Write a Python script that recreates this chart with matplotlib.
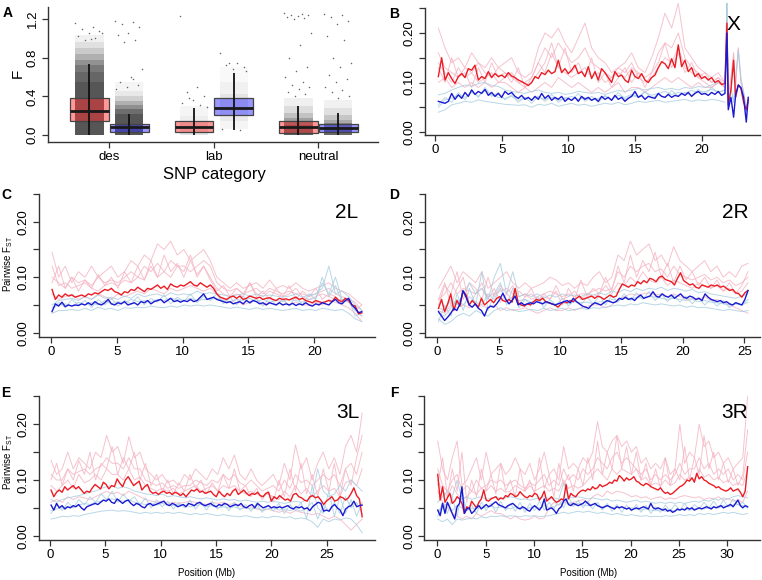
import numpy as np
import matplotlib.pyplot as plt

plt.rcParams['font.family'] = ['Liberation Sans', 'DejaVu Sans']

W, H = 762, 580  # figure size in pixels

# ---------------- panel A : F by SNP category ----------------
categories = ['des', 'lab', 'neutral']
# (whisker low, q1, median, q3, whisker high)
red_box = [(0.0, 0.148, 0.248, 0.386, 0.73),
           (0.0, 0.034, 0.086, 0.148, 0.283),
           (0.0, 0.024, 0.079, 0.145, 0.30)]
blue_box = [(0.0, 0.031, 0.083, 0.110, 0.214),
            (0.052, 0.207, 0.283, 0.386, 0.645),
            (0.0, 0.028, 0.076, 0.110, 0.224)]
# dense part of the jittered point clouds: (low, high, darkness)
red_cloud = [[(0.0, 0.55, 0.9), (0.55, 0.65, 0.82), (0.65, 0.72, 0.72), (0.72, 0.78, 0.58), (0.78, 0.84, 0.42),
              (0.84, 0.90, 0.28), (0.90, 0.96, 0.16), (0.96, 1.03, 0.07)],
             [(0.0, 0.12, 0.14), (0.12, 0.20, 0.09), (0.20, 0.30, 0.05)],
             [(0.0, 0.10, 0.85), (0.10, 0.14, 0.7), (0.14, 0.18, 0.5), (0.18, 0.23, 0.32), (0.23, 0.30, 0.18),
              (0.30, 0.38, 0.08)]]
blue_cloud = [[(0.0, 0.22, 0.9), (0.22, 0.27, 0.78), (0.27, 0.31, 0.6), (0.31, 0.35, 0.42), (0.35, 0.40, 0.25),
               (0.40, 0.46, 0.12), (0.46, 0.55, 0.05)],
              [(0.06, 0.15, 0.05), (0.15, 0.25, 0.11), (0.25, 0.42, 0.14), (0.42, 0.55, 0.07), (0.55, 0.70, 0.03)],
              [(0.0, 0.08, 0.8), (0.08, 0.12, 0.65), (0.12, 0.16, 0.45), (0.16, 0.21, 0.3), (0.21, 0.28, 0.16),
               (0.28, 0.36, 0.07)]]
# scattered single points outside the dense part
red_sparse = [[1.16, 1.12, 1.10, 1.08, 1.05, 1.02, 1.00, 0.98, 1.06, 0.99],
              [1.23, 0.50, 0.45, 0.40, 0.36, 0.33, 0.31, 0.38, 0.29],
              [1.26, 1.25, 1.24, 1.24, 1.23, 1.22, 1.21, 1.20, 1.05, 0.93, 0.80, 0.70, 0.66,
               0.60, 0.55, 0.52, 0.50, 0.48, 0.45, 0.42, 0.40]]
blue_sparse = [[1.18, 1.17, 1.15, 1.12, 1.05, 1.03, 0.98, 0.96, 0.68, 0.60, 0.55, 0.52, 0.50, 0.48, 0.58],
               [0.85, 0.75, 0.72, 0.70, 0.68, 0.06, 0.05, 0.74, 0.66],
               [1.25, 1.24, 1.22, 1.18, 1.15, 1.02, 0.98, 0.80, 0.75, 0.70, 0.62, 0.58,
                0.55, 0.50, 0.47, 0.44, 0.40, 0.38]]

# ---------------- panel B : X ----------------
b_start, b_end = 0.25, 21.75
b_red = [0.112,0.150,0.105,0.120,0.108,0.098,0.112,0.118,0.110,0.128,
         0.125,0.135,0.105,0.112,0.108,0.122,0.110,0.118,0.112,0.115,
         0.110,0.120,0.113,0.110,0.105,0.102,0.098,0.094,0.100,0.112,
         0.108,0.120,0.116,0.125,0.118,0.122,0.145,0.120,0.128,0.118,
         0.125,0.135,0.118,0.122,0.112,0.132,0.108,0.122,0.105,0.128,
         0.120,0.110,0.100,0.122,0.112,0.115,0.105,0.100,0.125,0.112,
         0.108,0.118,0.105,0.100,0.110,0.115,0.130,0.142,0.138,0.128,
         0.148,0.130,0.176,0.132,0.145,0.122,0.130,0.112,0.118,0.108,
         0.112,0.105,0.110,0.100,0.104,0.096,0.098]
b_blue = [0.062,0.060,0.058,0.062,0.078,0.066,0.075,0.068,0.080,0.072,
          0.085,0.076,0.082,0.078,0.086,0.074,0.080,0.072,0.078,0.070,
          0.082,0.076,0.080,0.072,0.068,0.074,0.066,0.070,0.064,0.072,
          0.066,0.078,0.068,0.074,0.064,0.070,0.066,0.072,0.062,0.068,
          0.064,0.070,0.062,0.072,0.066,0.070,0.064,0.068,0.062,0.072,
          0.066,0.070,0.064,0.074,0.066,0.070,0.062,0.068,0.072,0.082,
          0.070,0.074,0.066,0.072,0.070,0.068,0.078,0.072,0.070,0.076,
          0.070,0.074,0.072,0.078,0.074,0.080,0.072,0.078,0.082,0.076,
          0.078,0.074,0.080,0.076,0.082,0.074,0.078]
b_pink = [
    [0.21,0.17,0.14,0.15,0.13,0.16,0.14,0.13,0.15,0.13,0.14,0.15,0.12,0.11,0.12,0.17,0.20,0.19,0.21,0.18,0.16,0.19,
     0.22,0.17,0.15,0.14,0.12,0.13,0.14,0.16,0.13,0.12,0.15,0.19,0.24,0.21,0.26,0.17,0.15,0.13,0.12,0.11,0.12,0.10],
    [0.16,0.13,0.12,0.11,0.13,0.12,0.14,0.12,0.11,0.13,0.12,0.11,0.10,0.10,0.11,0.14,0.17,0.15,0.18,0.16,0.14,0.15,
     0.17,0.14,0.13,0.12,0.11,0.12,0.11,0.13,0.12,0.11,0.12,0.16,0.18,0.17,0.20,0.15,0.13,0.12,0.11,0.10,0.11,0.10],
    [0.10,0.11,0.09,0.10,0.09,0.10,0.09,0.10,0.09,0.10,0.10,0.09,0.08,0.09,0.08,0.09,0.10,0.09,0.11,0.10,0.09,0.10,
     0.09,0.08,0.09,0.08,0.09,0.10,0.08,0.09,0.09,0.08,0.09,0.10,0.11,0.10,0.11,0.10,0.09,0.10,0.09,0.09,0.10,0.09],
    [0.14,0.12,0.10,0.13,0.11,0.12,0.10,0.11,0.12,0.10,0.11,0.12,0.10,0.09,0.10,0.12,0.14,0.18,0.13,0.12,0.11,0.12,
     0.13,0.11,0.12,0.10,0.11,0.13,0.12,0.14,0.11,0.10,0.11,0.13,0.15,0.14,0.17,0.13,0.12,0.11,0.10,0.09,0.10,0.09],
    [0.13,0.10,0.15,0.11,0.12,0.09,0.13,0.10,0.14,0.11,0.12,0.10,0.13,0.09,0.11,0.14,0.12,0.16,0.13,0.17,0.12,0.14,
     0.11,0.15,0.10,0.12,0.09,0.11,0.13,0.10,0.12,0.09,0.12,0.14,0.18,0.13,0.16,0.12,0.14,0.11,0.12,0.10,0.11,0.09]]
b_lblue = [
    [0.075,0.078,0.085,0.090,0.095,0.092,0.098,0.100,0.094,0.092,0.085,0.082,0.080,0.078,0.082,0.085,0.080,0.078,0.080,0.076,0.078,0.082,
     0.080,0.078,0.080,0.076,0.080,0.084,0.082,0.085,0.088,0.085,0.088,0.090,0.086,0.088,0.085,0.090,0.088,0.092,0.090,0.095,0.100,0.098],
    [0.040,0.045,0.055,0.058,0.062,0.060,0.065,0.062,0.060,0.058,0.056,0.055,0.054,0.055,0.050,0.056,0.054,0.058,0.052,0.055,0.058,0.054,
     0.056,0.052,0.055,0.058,0.056,0.060,0.055,0.058,0.062,0.060,0.062,0.064,0.060,0.062,0.064,0.066,0.062,0.065,0.063,0.066,0.064,0.060],
    [0.050,0.065,0.068,0.075,0.070,0.080,0.072,0.085,0.075,0.070,0.068,0.072,0.064,0.070,0.066,0.072,0.065,0.070,0.064,0.068,0.072,0.066,
     0.070,0.064,0.068,0.072,0.066,0.074,0.070,0.076,0.072,0.080,0.074,0.078,0.082,0.076,0.080,0.078,0.084,0.080,0.082,0.086,0.080,0.085],
    [0.055,0.07,0.06,0.08,0.065,0.085,0.07,0.09,0.072,0.08,0.065,0.075,0.06,0.07,0.058,0.072,0.062,0.076,0.06,0.07,0.064,0.078,
     0.062,0.072,0.06,0.074,0.064,0.08,0.066,0.074,0.07,0.082,0.068,0.076,0.07,0.084,0.072,0.08,0.074,0.086,0.076,0.09,0.08,0.085]]
# noisy end of the X (after 21.75 Mb)
b_tail_x = [21.9, 22.0, 22.2, 22.4, 22.55, 22.75, 22.95, 23.15, 23.35, 23.5]
b_tail_red = [0.22, 0.055, 0.085, 0.145, 0.07, 0.095, 0.088, 0.06, 0.045, 0.065]
b_tail_blue = [0.20, 0.045, 0.07, 0.03, 0.075, 0.095, 0.09, 0.07, 0.02, 0.07]
b_tail_pink = [0.25, 0.07, 0.11, 0.16, 0.09, 0.17, 0.11, 0.08, 0.05, 0.07]
b_tail_lblue = [0.27, 0.05, 0.09, 0.06, 0.11, 0.165, 0.10, 0.08, 0.04, 0.06]

# ---------------- panel C : 2L ----------------
c_start, c_end = 0.1, 23.6
c_red = [0.078,0.060,0.068,0.064,0.070,0.066,0.068,0.064,0.066,0.068,0.065,0.070,0.068,0.072,0.070,0.074,0.078,0.076,0.080,0.074,
         0.072,0.068,0.074,0.072,0.078,0.076,0.082,0.078,0.074,0.080,0.078,0.082,0.086,0.080,0.084,0.078,0.088,0.084,0.082,0.086,
         0.084,0.088,0.092,0.086,0.084,0.090,0.086,0.082,0.086,0.080,0.070,0.064,0.062,0.060,0.064,0.066,0.062,0.066,0.060,0.062,
         0.066,0.064,0.062,0.064,0.060,0.062,0.063,0.060,0.058,0.062,0.060,0.061,0.059,0.062,0.064,0.060,0.062,0.058,0.056,0.054,
         0.058,0.056,0.054,0.056,0.058,0.056,0.064,0.058,0.056,0.062,0.058,0.050,0.048,0.034,0.036]
c_blue = [0.038,0.052,0.048,0.055,0.047,0.050,0.048,0.050,0.049,0.052,0.050,0.054,0.050,0.056,0.052,0.050,0.054,0.060,0.052,0.050,
          0.054,0.052,0.056,0.050,0.052,0.054,0.050,0.056,0.054,0.058,0.052,0.056,0.058,0.060,0.054,0.058,0.062,0.056,0.058,0.055,
          0.058,0.056,0.060,0.056,0.058,0.064,0.070,0.060,0.062,0.064,0.060,0.058,0.056,0.054,0.056,0.052,0.054,0.056,0.052,0.058,
          0.054,0.058,0.056,0.052,0.054,0.050,0.054,0.052,0.050,0.054,0.050,0.052,0.050,0.053,0.049,0.052,0.050,0.054,0.050,0.048,
          0.052,0.050,0.054,0.052,0.050,0.056,0.060,0.054,0.052,0.058,0.062,0.050,0.044,0.036,0.038]
c_pink = [
    [0.145,0.10,0.12,0.09,0.11,0.10,0.12,0.10,0.11,0.12,0.10,0.11,0.13,0.12,0.14,0.13,0.16,0.15,0.165,0.14,0.15,0.13,0.14,0.15,
     0.13,0.10,0.09,0.08,0.09,0.08,0.085,0.09,0.08,0.095,0.08,0.085,0.08,0.09,0.08,0.075,0.08,0.085,0.09,0.08,0.075,0.07,0.06,0.05],
    [0.10,0.09,0.08,0.10,0.09,0.095,0.085,0.10,0.09,0.095,0.09,0.10,0.11,0.10,0.12,0.11,0.125,0.11,0.13,0.12,0.12,0.11,0.12,0.13,
     0.12,0.09,0.08,0.075,0.08,0.07,0.075,0.08,0.07,0.08,0.075,0.07,0.075,0.07,0.07,0.065,0.07,0.075,0.08,0.07,0.065,0.06,0.055,0.04],
    [0.07,0.06,0.065,0.07,0.06,0.065,0.06,0.07,0.065,0.06,0.07,0.065,0.07,0.075,0.07,0.08,0.075,0.07,0.08,0.075,0.08,0.085,0.08,0.075,
     0.08,0.07,0.06,0.055,0.06,0.05,0.055,0.06,0.05,0.055,0.05,0.06,0.05,0.055,0.05,0.05,0.055,0.05,0.06,0.055,0.05,0.045,0.035,0.02],
    [0.12,0.085,0.09,0.08,0.085,0.09,0.08,0.075,0.085,0.09,0.085,0.095,0.09,0.10,0.095,0.12,0.10,0.11,0.10,0.12,0.11,0.14,0.10,0.12,
     0.10,0.08,0.07,0.065,0.07,0.065,0.09,0.07,0.065,0.075,0.07,0.065,0.07,0.08,0.065,0.06,0.065,0.07,0.065,0.06,0.06,0.055,0.045,0.03],
    [0.09,0.12,0.08,0.10,0.075,0.095,0.08,0.105,0.085,0.10,0.08,0.11,0.09,0.12,0.095,0.13,0.10,0.14,0.11,0.125,0.10,0.13,0.105,0.12,
     0.095,0.075,0.085,0.065,0.08,0.07,0.09,0.065,0.075,0.06,0.08,0.065,0.085,0.06,0.075,0.065,0.08,0.06,0.07,0.065,0.055,0.06,0.04,0.05]]
c_lblue = [
    [0.05,0.058,0.06,0.062,0.058,0.065,0.06,0.068,0.062,0.064,0.06,0.066,0.062,0.07,0.065,0.068,0.07,0.065,0.072,0.068,0.07,0.068,0.075,0.07,
     0.072,0.07,0.068,0.065,0.068,0.07,0.066,0.07,0.066,0.068,0.066,0.064,0.066,0.07,0.064,0.068,0.07,0.08,0.12,0.07,0.075,0.065,0.05,0.04],
    [0.035,0.04,0.04,0.042,0.04,0.044,0.04,0.046,0.042,0.044,0.04,0.045,0.044,0.046,0.045,0.048,0.046,0.045,0.048,0.046,0.05,0.048,0.05,0.048,
     0.05,0.048,0.046,0.044,0.046,0.044,0.042,0.045,0.042,0.044,0.042,0.04,0.042,0.044,0.04,0.042,0.04,0.044,0.042,0.04,0.042,0.035,0.025,0.02],
    [0.045,0.05,0.052,0.048,0.055,0.05,0.054,0.05,0.058,0.052,0.056,0.054,0.06,0.056,0.058,0.056,0.06,0.058,0.062,0.06,0.058,0.062,0.058,0.06,
     0.06,0.062,0.058,0.056,0.06,0.058,0.062,0.056,0.06,0.055,0.058,0.056,0.06,0.058,0.055,0.06,0.062,0.09,0.07,0.10,0.06,0.055,0.04,0.03],
    [0.04,0.055,0.045,0.06,0.05,0.058,0.045,0.06,0.05,0.062,0.048,0.058,0.052,0.065,0.05,0.062,0.055,0.068,0.052,0.064,0.056,0.07,0.054,0.066,
     0.058,0.07,0.052,0.064,0.05,0.066,0.052,0.062,0.048,0.064,0.05,0.06,0.048,0.066,0.05,0.07,0.06,0.1,0.065,0.085,0.055,0.06,0.03,0.035]]

# ---------------- panel D : 2R ----------------
d_start, d_end = 0.1, 25.3
d_red = [0.044,0.060,0.038,0.052,0.070,0.040,0.058,0.048,0.075,0.068,0.050,0.058,0.052,0.046,0.062,0.050,0.055,0.060,0.054,0.062,
         0.065,0.058,0.056,0.060,0.055,0.080,0.054,0.050,0.048,0.052,0.050,0.056,0.060,0.058,0.062,0.056,0.054,0.052,0.050,0.046,
         0.052,0.056,0.054,0.058,0.056,0.062,0.066,0.060,0.062,0.064,0.066,0.062,0.066,0.064,0.060,0.064,0.068,0.064,0.066,0.078,
         0.088,0.085,0.082,0.086,0.084,0.092,0.088,0.094,0.090,0.098,0.096,0.092,0.100,0.102,0.096,0.094,0.092,0.086,0.098,0.108,
         0.094,0.090,0.086,0.088,0.082,0.080,0.086,0.084,0.082,0.086,0.084,0.086,0.082,0.084,0.080,0.076,0.078,0.072,0.070,0.064,
         0.072,0.076]
d_blue = [0.038,0.030,0.022,0.028,0.035,0.044,0.040,0.052,0.076,0.064,0.050,0.046,0.052,0.044,0.040,0.030,0.044,0.048,0.046,0.052,
          0.060,0.071,0.060,0.052,0.058,0.066,0.050,0.054,0.050,0.052,0.054,0.052,0.056,0.054,0.052,0.056,0.054,0.052,0.050,0.052,
          0.054,0.056,0.058,0.054,0.062,0.056,0.052,0.048,0.046,0.044,0.050,0.054,0.052,0.050,0.054,0.058,0.056,0.054,0.056,0.062,
          0.060,0.064,0.060,0.062,0.058,0.064,0.068,0.062,0.064,0.066,0.074,0.066,0.064,0.070,0.066,0.064,0.068,0.062,0.066,0.070,
          0.064,0.062,0.066,0.064,0.060,0.062,0.058,0.070,0.064,0.060,0.058,0.056,0.058,0.054,0.056,0.052,0.050,0.054,0.052,0.050,
          0.060,0.076]
d_pink = [
    [0.08,0.10,0.12,0.09,0.11,0.10,0.09,0.11,0.08,0.09,0.10,0.11,0.09,0.08,0.09,0.08,0.085,0.09,0.10,0.095,0.085,0.09,0.08,0.09,0.085,0.10,
     0.11,0.09,0.10,0.14,0.13,0.165,0.14,0.15,0.16,0.13,0.14,0.12,0.155,0.13,0.12,0.11,0.12,0.13,0.11,0.12,0.10,0.11,0.10,0.12,0.125],
    [0.06,0.07,0.09,0.07,0.08,0.075,0.07,0.08,0.065,0.07,0.075,0.08,0.07,0.065,0.07,0.06,0.065,0.07,0.075,0.07,0.065,0.07,0.065,0.07,0.07,0.075,
     0.08,0.075,0.08,0.11,0.10,0.12,0.11,0.12,0.125,0.11,0.115,0.10,0.12,0.105,0.10,0.095,0.10,0.105,0.095,0.10,0.09,0.095,0.085,0.09,0.10],
    [0.04,0.035,0.05,0.045,0.05,0.045,0.05,0.048,0.045,0.05,0.04,0.045,0.04,0.042,0.045,0.04,0.035,0.04,0.045,0.04,0.04,0.045,0.04,0.045,0.048,0.05,
     0.05,0.045,0.05,0.06,0.065,0.07,0.068,0.07,0.072,0.068,0.07,0.065,0.07,0.065,0.06,0.062,0.06,0.065,0.058,0.06,0.055,0.05,0.045,0.04,0.035],
    [0.05,0.085,0.07,0.11,0.06,0.09,0.08,0.06,0.10,0.065,0.085,0.07,0.06,0.075,0.065,0.07,0.06,0.065,0.06,0.085,0.06,0.065,0.075,0.06,0.07,0.065,
     0.07,0.085,0.07,0.09,0.085,0.10,0.09,0.11,0.095,0.09,0.10,0.085,0.095,0.09,0.085,0.08,0.09,0.085,0.08,0.085,0.075,0.08,0.07,0.075,0.09],
    [0.06,0.09,0.05,0.08,0.10,0.05,0.07,0.09,0.06,0.08,0.055,0.07,0.085,0.05,0.065,0.08,0.055,0.07,0.06,0.075,0.05,0.08,0.06,0.095,0.065,0.08,
     0.07,0.10,0.075,0.12,0.09,0.14,0.10,0.13,0.11,0.145,0.10,0.125,0.09,0.12,0.095,0.11,0.085,0.10,0.08,0.095,0.075,0.09,0.07,0.085,0.11]]
d_lblue = [
    [0.045,0.04,0.06,0.05,0.07,0.09,0.07,0.08,0.06,0.10,0.125,0.07,0.11,0.065,0.07,0.065,0.07,0.062,0.068,0.064,0.07,0.066,0.068,0.065,0.07,0.068,
     0.072,0.068,0.075,0.072,0.078,0.074,0.08,0.076,0.08,0.078,0.082,0.076,0.08,0.078,0.075,0.078,0.072,0.074,0.07,0.068,0.066,0.064,0.062,0.066,0.07],
    [0.025,0.015,0.02,0.03,0.035,0.03,0.04,0.035,0.03,0.04,0.045,0.04,0.042,0.038,0.04,0.042,0.04,0.044,0.04,0.042,0.044,0.04,0.042,0.044,0.042,0.045,
     0.044,0.046,0.048,0.05,0.048,0.052,0.05,0.054,0.052,0.05,0.052,0.05,0.048,0.05,0.046,0.048,0.045,0.046,0.044,0.042,0.04,0.042,0.04,0.038,0.04],
    [0.035,0.03,0.045,0.06,0.05,0.065,0.055,0.05,0.07,0.06,0.08,0.055,0.065,0.058,0.06,0.055,0.058,0.052,0.055,0.05,0.054,0.052,0.056,0.054,0.055,0.052,
     0.056,0.055,0.06,0.058,0.062,0.06,0.064,0.062,0.066,0.064,0.062,0.06,0.062,0.06,0.058,0.06,0.056,0.058,0.055,0.054,0.052,0.05,0.052,0.05,0.055],
    [0.02,0.05,0.03,0.07,0.04,0.08,0.05,0.11,0.04,0.07,0.09,0.05,0.08,0.045,0.06,0.05,0.065,0.045,0.06,0.05,0.062,0.048,0.06,0.05,0.064,0.052,
     0.066,0.05,0.068,0.055,0.07,0.058,0.072,0.06,0.074,0.058,0.07,0.056,0.068,0.055,0.066,0.052,0.064,0.05,0.06,0.048,0.058,0.045,0.055,0.05,0.06]]

# ---------------- panel E : 3L ----------------
e_start, e_end = 0.1, 28.2
e_red = [0.082,0.070,0.078,0.082,0.078,0.088,0.082,0.086,0.090,0.084,0.088,0.082,0.076,0.080,0.078,0.086,0.092,0.088,0.084,0.096,
         0.092,0.084,0.090,0.088,0.102,0.094,0.088,0.100,0.106,0.098,0.090,0.094,0.098,0.082,0.088,0.092,0.080,0.076,0.078,0.074,
         0.078,0.080,0.076,0.078,0.074,0.078,0.076,0.072,0.076,0.070,0.076,0.082,0.080,0.084,0.078,0.080,0.076,0.078,0.080,0.074,
         0.070,0.080,0.074,0.070,0.076,0.072,0.080,0.084,0.074,0.078,0.082,0.076,0.072,0.076,0.074,0.078,0.072,0.070,0.076,0.078,
         0.062,0.070,0.066,0.072,0.068,0.064,0.066,0.062,0.074,0.076,0.070,0.068,0.064,0.062,0.070,0.072,0.068,0.070,0.064,0.056,
         0.062,0.066,0.070,0.062,0.064,0.070,0.068,0.064,0.068,0.076,0.086,0.072,0.066,0.034]
e_blue = [0.055,0.046,0.058,0.050,0.054,0.048,0.052,0.050,0.054,0.052,0.056,0.050,0.046,0.052,0.054,0.056,0.058,0.056,0.060,0.064,
          0.062,0.066,0.060,0.058,0.066,0.062,0.058,0.062,0.064,0.058,0.054,0.058,0.056,0.052,0.050,0.056,0.058,0.054,0.056,0.058,
          0.060,0.062,0.056,0.054,0.058,0.056,0.052,0.054,0.056,0.052,0.058,0.056,0.054,0.058,0.060,0.056,0.054,0.056,0.058,0.054,
          0.052,0.056,0.054,0.058,0.056,0.052,0.054,0.056,0.054,0.058,0.052,0.050,0.054,0.056,0.050,0.058,0.054,0.050,0.052,0.054,
          0.050,0.052,0.050,0.052,0.050,0.052,0.054,0.050,0.048,0.052,0.050,0.052,0.048,0.050,0.045,0.052,0.056,0.060,0.058,0.044,
          0.046,0.044,0.052,0.056,0.050,0.046,0.036,0.048,0.052,0.054,0.062,0.052,0.054,0.055]
e_pink = [
    [0.135,0.11,0.12,0.15,0.12,0.14,0.13,0.12,0.15,0.14,0.18,0.15,0.16,0.13,0.178,0.14,0.15,0.12,0.11,0.10,0.11,0.095,0.10,0.09,0.11,0.10,0.12,0.11,
     0.10,0.12,0.11,0.14,0.12,0.145,0.11,0.10,0.12,0.10,0.09,0.10,0.11,0.09,0.13,0.10,0.163,0.12,0.14,0.10,0.13,0.15,0.12,0.14,0.11,0.16,0.18,0.15,0.22],
    [0.11,0.10,0.10,0.12,0.11,0.115,0.12,0.11,0.12,0.125,0.14,0.13,0.13,0.12,0.14,0.12,0.12,0.10,0.095,0.09,0.095,0.085,0.09,0.085,0.09,0.09,0.10,0.095,
     0.09,0.10,0.095,0.11,0.10,0.11,0.095,0.09,0.10,0.09,0.08,0.085,0.09,0.08,0.10,0.085,0.11,0.095,0.10,0.09,0.10,0.11,0.10,0.11,0.09,0.12,0.13,0.11,0.15],
    [0.06,0.065,0.06,0.07,0.065,0.07,0.068,0.065,0.07,0.075,0.08,0.075,0.078,0.072,0.08,0.075,0.07,0.065,0.062,0.06,0.062,0.058,0.06,0.058,0.06,0.062,0.06,
     0.058,0.056,0.06,0.058,0.06,0.056,0.058,0.054,0.05,0.052,0.048,0.045,0.048,0.045,0.042,0.045,0.04,0.045,0.042,0.04,0.038,0.04,0.035,0.03,0.035,0.03,
     0.02,0.01,0.02,0.03],
    [0.09,0.08,0.09,0.10,0.085,0.11,0.095,0.10,0.11,0.10,0.12,0.11,0.11,0.10,0.12,0.10,0.105,0.09,0.085,0.08,0.085,0.08,0.085,0.075,0.08,0.085,0.09,0.08,
     0.085,0.09,0.08,0.09,0.085,0.09,0.08,0.075,0.08,0.075,0.07,0.075,0.07,0.065,0.08,0.07,0.09,0.075,0.085,0.07,0.08,0.09,0.08,0.085,0.07,0.095,0.10,0.09,0.12],
    [0.10,0.13,0.09,0.12,0.10,0.135,0.11,0.15,0.10,0.13,0.12,0.16,0.11,0.14,0.12,0.15,0.10,0.13,0.09,0.11,0.08,0.10,0.075,0.095,0.08,0.11,0.085,0.10,
     0.075,0.095,0.08,0.11,0.085,0.12,0.08,0.09,0.07,0.085,0.065,0.08,0.06,0.10,0.07,0.12,0.08,0.13,0.075,0.11,0.07,0.12,0.08,0.13,0.07,0.12,0.09,0.14,0.18]]
e_lblue = [
    [0.065,0.06,0.065,0.068,0.07,0.072,0.075,0.078,0.08,0.085,0.088,0.09,0.085,0.088,0.085,0.08,0.078,0.075,0.074,0.072,0.075,0.07,0.072,0.07,0.068,0.07,
     0.068,0.066,0.068,0.066,0.064,0.066,0.064,0.065,0.062,0.064,0.062,0.06,0.062,0.06,0.062,0.06,0.058,0.06,0.062,0.06,0.064,0.07,0.12,0.08,0.07,0.075,
     0.09,0.08,0.10,0.09,0.08],
    [0.03,0.032,0.035,0.034,0.036,0.035,0.038,0.04,0.042,0.044,0.045,0.046,0.044,0.045,0.044,0.042,0.04,0.042,0.04,0.042,0.04,0.042,0.04,0.042,0.04,0.038,
     0.04,0.038,0.04,0.038,0.036,0.038,0.036,0.035,0.034,0.036,0.034,0.032,0.034,0.032,0.035,0.034,0.032,0.034,0.03,0.032,0.03,0.025,0.015,0.03,0.025,0.03,
     0.028,0.032,0.03,0.02,0.005],
    [0.045,0.048,0.05,0.052,0.05,0.055,0.058,0.056,0.06,0.062,0.065,0.066,0.064,0.062,0.065,0.06,0.058,0.056,0.058,0.055,0.058,0.056,0.054,0.056,0.055,0.052,
     0.054,0.056,0.052,0.054,0.05,0.052,0.05,0.052,0.048,0.05,0.048,0.05,0.046,0.048,0.05,0.046,0.048,0.045,0.048,0.044,0.05,0.06,0.03,0.055,0.045,0.06,
     0.04,0.07,0.05,0.06,0.04],
    [0.04,0.055,0.045,0.06,0.05,0.065,0.055,0.07,0.06,0.075,0.065,0.08,0.06,0.075,0.062,0.07,0.055,0.068,0.05,0.064,0.052,0.062,0.048,0.06,0.05,0.064,
     0.048,0.06,0.046,0.062,0.048,0.058,0.045,0.06,0.046,0.056,0.044,0.058,0.042,0.055,0.044,0.058,0.04,0.056,0.045,0.06,0.03,0.09,0.05,0.04,0.08,0.035,
     0.07,0.04,0.065,0.035,0.06]]

# ---------------- panel F : 3R ----------------
f_start, f_end = 0.05, 32.1
f_red = [0.110,0.064,0.088,0.060,0.068,0.076,0.058,0.062,0.070,0.066,0.058,0.040,0.052,0.048,0.062,0.056,0.050,0.060,0.066,0.082,
         0.064,0.062,0.066,0.068,0.070,0.064,0.068,0.066,0.072,0.070,0.076,0.074,0.070,0.072,0.079,0.074,0.070,0.068,0.072,0.070,
         0.076,0.074,0.064,0.070,0.080,0.062,0.066,0.070,0.064,0.060,0.062,0.066,0.064,0.092,0.066,0.076,0.072,0.070,0.076,0.080,
         0.082,0.080,0.084,0.082,0.088,0.084,0.086,0.092,0.088,0.090,0.092,0.096,0.094,0.100,0.098,0.108,0.104,0.098,0.104,0.100,
         0.102,0.106,0.098,0.096,0.092,0.090,0.094,0.092,0.088,0.086,0.084,0.082,0.086,0.080,0.076,0.078,0.074,0.076,0.080,0.084,
         0.088,0.090,0.094,0.100,0.098,0.104,0.096,0.112,0.102,0.106,0.100,0.098,0.094,0.092,0.090,0.086,0.088,0.084,0.082,0.080,
         0.082,0.086,0.080,0.082,0.084,0.078,0.070,0.080,0.124]
f_blue = [0.046,0.036,0.058,0.040,0.060,0.050,0.040,0.030,0.052,0.058,0.088,0.040,0.048,0.050,0.040,0.044,0.050,0.054,0.048,0.052,
          0.056,0.052,0.054,0.058,0.061,0.056,0.054,0.052,0.050,0.054,0.056,0.058,0.054,0.050,0.048,0.052,0.050,0.046,0.044,0.050,
          0.054,0.050,0.046,0.052,0.066,0.046,0.048,0.050,0.046,0.040,0.048,0.052,0.062,0.066,0.056,0.054,0.058,0.056,0.054,0.056,
          0.058,0.062,0.058,0.054,0.056,0.058,0.054,0.052,0.050,0.052,0.054,0.052,0.050,0.048,0.052,0.050,0.052,0.050,0.048,0.050,
          0.046,0.048,0.050,0.048,0.050,0.052,0.050,0.048,0.058,0.050,0.048,0.050,0.048,0.046,0.048,0.044,0.046,0.042,0.044,0.048,
          0.046,0.048,0.046,0.050,0.048,0.050,0.046,0.048,0.050,0.048,0.050,0.052,0.050,0.048,0.052,0.050,0.052,0.054,0.050,0.052,
          0.054,0.056,0.052,0.058,0.064,0.054,0.050,0.054,0.052]
f_pink = [
    [0.17,0.12,0.10,0.14,0.17,0.09,0.10,0.12,0.14,0.10,0.15,0.11,0.12,0.13,0.11,0.12,0.14,0.12,0.11,0.13,0.10,0.12,0.15,0.11,0.12,0.10,0.16,0.12,0.13,
     0.12,0.14,0.13,0.15,0.205,0.16,0.15,0.17,0.18,0.16,0.17,0.15,0.16,0.13,0.14,0.12,0.13,0.12,0.14,0.11,0.12,0.20,0.13,0.15,0.14,0.20,0.16,0.17,0.14,
     0.15,0.13,0.14,0.12,0.13,0.14,0.25],
    [0.12,0.09,0.08,0.10,0.11,0.08,0.09,0.08,0.10,0.085,0.09,0.10,0.095,0.10,0.09,0.095,0.10,0.09,0.085,0.095,0.09,0.10,0.11,0.09,0.10,0.09,0.12,0.10,
     0.11,0.10,0.12,0.11,0.12,0.14,0.13,0.12,0.14,0.15,0.13,0.14,0.13,0.12,0.11,0.12,0.10,0.11,0.10,0.11,0.10,0.11,0.13,0.11,0.12,0.12,0.14,0.12,0.13,
     0.11,0.12,0.11,0.12,0.10,0.11,0.10,0.15],
    [0.08,0.06,0.05,0.04,0.035,0.03,0.035,0.03,0.04,0.035,0.04,0.045,0.04,0.04,0.035,0.03,0.035,0.03,0.028,0.03,0.035,0.03,0.032,0.05,0.06,0.055,0.06,
     0.058,0.06,0.062,0.065,0.06,0.07,0.075,0.07,0.08,0.075,0.08,0.078,0.075,0.07,0.072,0.068,0.07,0.065,0.068,0.07,0.065,0.068,0.066,0.07,0.072,0.07,
     0.068,0.07,0.065,0.068,0.066,0.07,0.064,0.066,0.062,0.064,0.06,0.08],
    [0.10,0.08,0.07,0.09,0.075,0.065,0.07,0.08,0.075,0.085,0.08,0.09,0.08,0.085,0.078,0.08,0.09,0.085,0.08,0.09,0.08,0.085,0.09,0.08,0.085,0.08,0.10,
     0.085,0.09,0.085,0.09,0.10,0.11,0.12,0.11,0.10,0.12,0.11,0.12,0.115,0.11,0.12,0.10,0.105,0.09,0.095,0.09,0.10,0.09,0.095,0.11,0.10,0.105,0.10,0.12,
     0.105,0.11,0.10,0.105,0.095,0.10,0.09,0.095,0.09,0.12],
    [0.09,0.14,0.07,0.12,0.08,0.15,0.06,0.10,0.07,0.12,0.08,0.11,0.075,0.13,0.08,0.10,0.07,0.12,0.08,0.10,0.075,0.14,0.085,0.11,0.07,0.13,0.09,0.11,
     0.08,0.12,0.09,0.14,0.10,0.17,0.11,0.15,0.12,0.18,0.12,0.16,0.11,0.15,0.10,0.13,0.09,0.12,0.085,0.14,0.09,0.12,0.10,0.16,0.10,0.14,0.11,0.18,0.12,
     0.15,0.10,0.13,0.095,0.12,0.09,0.11,0.19]]
f_lblue = [
    [0.06,0.07,0.08,0.07,0.10,0.065,0.07,0.065,0.068,0.07,0.065,0.068,0.07,0.066,0.068,0.07,0.068,0.065,0.066,0.064,0.066,0.068,0.07,0.066,0.068,0.066,
     0.095,0.07,0.068,0.07,0.068,0.066,0.068,0.066,0.064,0.066,0.062,0.064,0.062,0.06,0.062,0.064,0.06,0.062,0.06,0.058,0.06,0.058,0.06,0.058,0.06,0.058,
     0.06,0.062,0.06,0.064,0.062,0.066,0.064,0.068,0.066,0.07,0.072,0.07,0.068],
    [0.03,0.025,0.03,0.02,0.03,0.028,0.03,0.032,0.03,0.034,0.032,0.035,0.034,0.036,0.034,0.036,0.035,0.034,0.036,0.035,0.036,0.034,0.035,0.036,0.038,0.04,
     0.042,0.04,0.042,0.044,0.042,0.044,0.042,0.04,0.042,0.04,0.038,0.04,0.038,0.036,0.038,0.036,0.035,0.036,0.034,0.035,0.034,0.036,0.035,0.036,0.038,
     0.036,0.038,0.036,0.04,0.038,0.04,0.038,0.04,0.042,0.04,0.042,0.04,0.038,0.04],
    [0.045,0.05,0.06,0.045,0.055,0.05,0.045,0.05,0.048,0.052,0.05,0.054,0.05,0.052,0.05,0.048,0.052,0.05,0.048,0.05,0.052,0.05,0.054,0.05,0.052,0.056,
     0.065,0.058,0.056,0.058,0.055,0.054,0.056,0.054,0.052,0.054,0.05,0.052,0.05,0.048,0.05,0.048,0.046,0.048,0.046,0.045,0.046,0.044,0.046,0.045,0.046,
     0.048,0.046,0.048,0.05,0.048,0.05,0.052,0.05,0.054,0.052,0.055,0.056,0.054,0.05],
    [0.035,0.06,0.04,0.07,0.035,0.08,0.045,0.055,0.04,0.06,0.045,0.058,0.042,0.062,0.045,0.058,0.044,0.06,0.042,0.058,0.045,0.062,0.046,0.06,0.048,0.065,
     0.05,0.07,0.052,0.064,0.05,0.062,0.048,0.06,0.046,0.058,0.044,0.056,0.042,0.055,0.044,0.056,0.042,0.054,0.04,0.052,0.042,0.055,0.044,0.056,0.046,
     0.058,0.045,0.056,0.048,0.06,0.05,0.062,0.05,0.064,0.052,0.066,0.055,0.06,0.05]]

# colours
PINK = '#f4b3c2'
LBLUE = '#a7cde0'
RED = '#ec1c24'
BLUE = '#1a1ad2'
AXC = '#333333'
TICK_FS = 9.5

fig = plt.figure(figsize=(W / 100, H / 100), dpi=100)


def px_rect(left, top, right, bottom):
    # pixel box -> figure fraction rectangle
    return [left / W, 1 - bottom / H, (right - left) / W, (bottom - top) / H]


def style_axes(ax):
    for s in ['top', 'right']:
        ax.spines[s].set_visible(False)
    for s in ['left', 'bottom']:
        ax.spines[s].set_color(AXC)
        ax.spines[s].set_linewidth(1.0)
    ax.tick_params(direction='out', length=4, width=0.9, color=AXC, labelsize=TICK_FS, pad=2.5)
    ax.tick_params(axis='y', labelrotation=90)
    for lab in ax.get_yticklabels():
        lab.set_va('center')


def xs(start, end, vals):
    return np.linspace(start, end, len(vals))


# ---- A ----
axA = fig.add_axes(px_rect(48, 7, 378, 142))
pos = np.arange(1, len(categories) + 1)
bw = 0.37
cw = 0.27
for i, p in enumerate(pos):
    for off, cloud, sparse in [(-0.19, red_cloud[i], red_sparse[i]), (0.19, blue_cloud[i], blue_sparse[i])]:
        for lo, hi, a in cloud:
            axA.bar(p + off, hi - lo, bottom=lo, width=cw, color='#444444', alpha=a, linewidth=0)
        jit = ((np.arange(len(sparse)) * 0.618) % 1 - 0.5) * cw
        axA.scatter(p + off + jit, sparse, s=1.2, color='#666666', linewidths=0)
    for off, st, fc in [(-0.19, red_box[i], (1, 0.2, 0.2, 0.5)), (0.19, blue_box[i], (0.2, 0.2, 1, 0.5))]:
        wl, q1, med, q3, wh = st
        axA.vlines(p + off, wl, wh, color='#111111', lw=1.3)
        axA.bar(p + off, q3 - q1, bottom=q1, width=bw, color=fc, edgecolor='#444444', linewidth=0.9)
        axA.hlines(med, p + off - bw / 2, p + off + bw / 2, color='#1a1a1a', lw=2.0)
axA.set_xlim(0.413, 3.571)
axA.set_ylim(-0.072, 1.324)
axA.set_xticks(pos)
axA.set_xticklabels(categories)
axA.set_yticks([0.0, 0.4, 0.8, 1.2])
axA.set_yticklabels(['0.0', '0.4', '0.8', '1.2'])
style_axes(axA)

# ---- chromosome panels ----
panels = [
    # rect, xlim, ylim, xticks, start, end, red, blue, pinks, lblues
    (px_rect(425, 3, 760, 135), (-0.75, 24.38), (-0.006, 0.2606), [0, 5, 10, 15, 20],
     b_start, b_end, b_red, b_blue, b_pink, b_lblue),
    (px_rect(39, 194, 375, 336.7), (-0.89, 24.6), (-0.0072, 0.25), [0, 5, 10, 15, 20],
     c_start, c_end, c_red, c_blue, c_pink, c_lblue),
    (px_rect(425, 194, 760, 336.7), (-1.0, 26.28), (-0.0072, 0.25), [0, 5, 10, 15, 20, 25],
     d_start, d_end, d_red, d_blue, d_pink, d_lblue),
    (px_rect(39, 392, 375, 540), (-0.99, 29.36), (-0.0077, 0.258), [0, 5, 10, 15, 20, 25],
     e_start, e_end, e_red, e_blue, e_pink, e_lblue),
    (px_rect(424.3, 392, 760, 540), (-1.34, 33.38), (-0.0077, 0.258), [0, 5, 10, 15, 20, 25, 30],
     f_start, f_end, f_red, f_blue, f_pink, f_lblue),
]

axes = []
for rect, xl, yl, xt, st, en, red, blue, pinks, lblues in panels:
    ax = fig.add_axes(rect)
    for p in pinks:
        ax.plot(xs(st, en, p), p, color=PINK, lw=0.7, alpha=0.8)
    for lb in lblues:
        ax.plot(xs(st, en, lb), lb, color=LBLUE, lw=0.7, alpha=0.8)
    axes.append((ax, st, en, red, blue))
    ax.set_xlim(*xl)
    ax.set_ylim(*yl)
    ax.set_xticks(xt)
    ax.set_yticks([0, 0.05, 0.10, 0.15, 0.20, 0.25])
    ax.set_yticklabels(['0.00', '', '0.10', '', '0.20', ''])
    ax.spines['left'].set_bounds(yl[0], 0.25)
    style_axes(ax)

# the X has a noisy tail, drawn in the same order as the rest
axB = axes[0][0]
axB.plot([b_end] + b_tail_x, [b_pink[0][-1]] + b_tail_pink, color=PINK, lw=0.7)
axB.plot([b_end] + b_tail_x, [b_lblue[0][-1]] + b_tail_lblue, color=LBLUE, lw=0.7)

for ax, st, en, red, blue in axes:
    rx, ry = xs(st, en, red), list(red)
    bx, by = xs(st, en, blue), list(blue)
    if ax is axB:
        rx, ry = np.concatenate([rx, b_tail_x]), ry + b_tail_red
        bx, by = np.concatenate([bx, b_tail_x]), by + b_tail_blue
    ax.plot(rx, ry, color=RED, lw=1.0)
    ax.plot(bx, by, color=BLUE, lw=1.0)


# ---- text ----
def ftext(x, y, s, **kw):
    fig.text(x / W, 1 - y / H, s, **kw)


for lab, x, y in [('A', 8, 13), ('B', 394, 14), ('C', 6, 195), ('D', 394, 195), ('E', 6, 393), ('F', 394, 393)]:
    ftext(x, y, lab, fontsize=10, fontweight='bold', ha='center', va='center')
for lab, x, y in [('X', 733, 25), ('2L', 347, 213), ('2R', 735, 213), ('3L', 348, 413), ('3R', 735, 413)]:
    ftext(x, y, lab, fontsize=15, ha='center', va='center')

ftext(18, 73, 'F', fontsize=11, rotation=90, ha='center', va='center')
ftext(214, 174, 'SNP category', fontsize=12, ha='center', va='center')
ftext(8, 264, r'Pairwise F$_{\mathregular{ST}}$', fontsize=7, rotation=90, ha='center', va='center')
ftext(8, 462, r'Pairwise F$_{\mathregular{ST}}$', fontsize=7, rotation=90, ha='center', va='center')
ftext(207, 573, 'Position (Mb)', fontsize=7, ha='center', va='center')
ftext(589, 573, 'Position (Mb)', fontsize=7, ha='center', va='center')

fig.savefig('out.png', dpi=100)
